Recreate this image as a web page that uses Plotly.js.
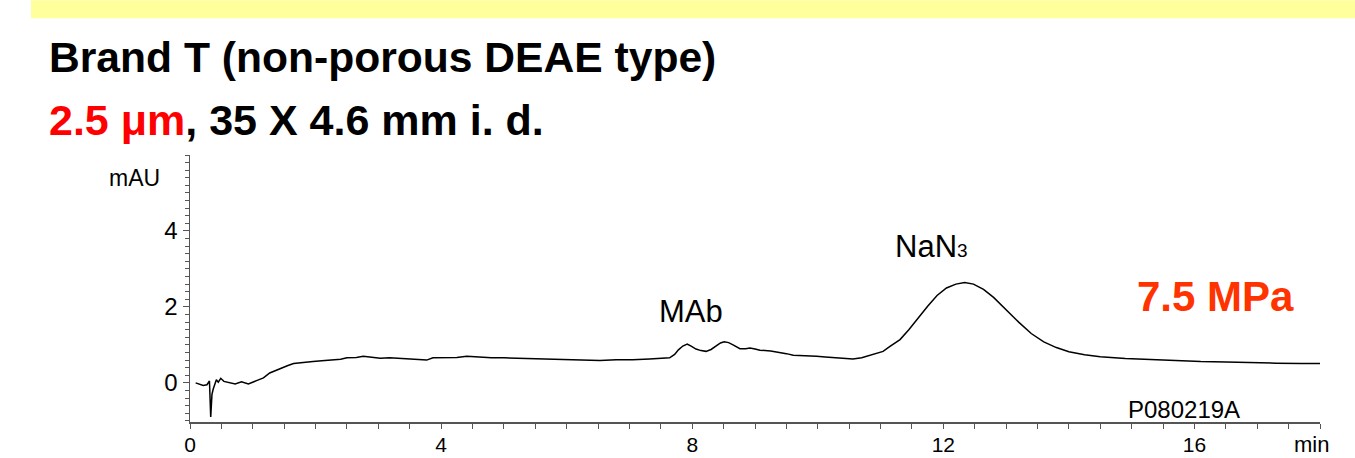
<!DOCTYPE html>
<html>
<head>
<meta charset="utf-8">
<script src="https://cdn.plot.ly/plotly-3.0.1.min.js"></script>
<style>
  html, body { margin: 0; padding: 0; background: #ffffff; }
  #chart { width: 1355px; height: 458px; }
</style>
</head>
<body>
<div id="chart"></div>
<script>
// ---- Data ----
const timeMin = [
  0.09, 0.16, 0.21, 0.27, 0.31, 0.33, 0.35, 0.37, 0.42, 0.45, 0.49, 0.54, 0.62, 0.72, 0.82, 0.93,
  1.06, 1.17, 1.27, 1.35, 1.43, 1.55, 1.65, 1.80, 1.96, 2.10, 2.23, 2.40, 2.50, 2.65, 2.76, 2.90,
  3.03, 3.18, 3.29, 3.45, 3.56, 3.70, 3.77, 3.87, 4.09, 4.25, 4.41, 4.62, 4.80, 5.00, 5.25, 5.50,
  5.75, 6.00, 6.25, 6.53, 6.79, 7.05, 7.32, 7.50, 7.64, 7.72, 7.78, 7.85, 7.92, 7.99, 8.06, 8.14,
  8.22, 8.30, 8.38, 8.45, 8.51, 8.58, 8.65, 8.76, 8.85, 8.92, 9.00, 9.08, 9.25, 9.39, 9.50, 9.61,
  9.80, 9.98, 10.12, 10.25, 10.40, 10.56, 10.70, 10.83, 10.95, 11.04, 11.15, 11.31, 11.45, 11.60,
  11.75, 11.90, 12.05, 12.20, 12.34, 12.48, 12.64, 12.80, 13.00, 13.20, 13.40, 13.60, 13.80, 14.00,
  14.25, 14.50, 14.90, 15.30, 15.70, 16.10, 16.50, 16.90, 17.30, 17.70, 18.00
];
const absorbanceMAU = [
  0.00, -0.04, -0.07, -0.05, 0.05, -0.90, -0.30, -0.16, 0.08, 0.02, 0.12, 0.04, 0.00, -0.03, 0.03, -0.03,
  0.06, 0.13, 0.26, 0.32, 0.38, 0.45, 0.51, 0.54, 0.56, 0.58, 0.60, 0.62, 0.66, 0.67, 0.70, 0.67,
  0.65, 0.66, 0.65, 0.64, 0.63, 0.61, 0.60, 0.66, 0.66, 0.67, 0.70, 0.67, 0.66, 0.66, 0.65, 0.64,
  0.64, 0.63, 0.62, 0.59, 0.61, 0.61, 0.63, 0.64, 0.66, 0.75, 0.87, 0.97, 1.02, 0.96, 0.89, 0.85,
  0.83, 0.88, 0.98, 1.05, 1.08, 1.06, 1.00, 0.90, 0.90, 0.92, 0.89, 0.86, 0.84, 0.81, 0.77, 0.73,
  0.72, 0.70, 0.68, 0.66, 0.64, 0.63, 0.66, 0.72, 0.78, 0.83, 0.96, 1.14, 1.40, 1.72,
  2.02, 2.30, 2.50, 2.60, 2.64, 2.60, 2.46, 2.25, 1.92, 1.60, 1.30, 1.08, 0.93, 0.82,
  0.74, 0.69, 0.64, 0.61, 0.58, 0.56, 0.55, 0.53, 0.52, 0.51, 0.51
];

const xTickVals = [0, 4, 8, 12, 16];
const xTickText = ['0', '4', '8', '12', '16'];
const yTickVals = [0, 2, 4];
const yTickText = ['0', '2', '4'];

const titleLine1 = '<b>Brand T (non-porous DEAE type)</b>';
const titleLine2 = '<b><span style="color:#ff0000">2.5 μm</span>, 35 X 4.6 mm i. d.</b>';
const peakLabels = [
  { text: 'MAb', x: 7.98, y: 1.88 },
  { text: 'NaN<span style="font-size:19px">3</span>', x: 11.81, y: 3.58 }
];
const pressureText = '<b>7.5 MPa</b>';
const runId = 'P080219A';
const yUnit = 'mAU';
const xUnit = 'min';

// ---- Layout helpers (pixel -> paper) ----
const W = 1355, H = 458;
const M = { l: 190, r: 35, t: 155, b: 35.5 };
const PW = W - M.l - M.r, PH = H - M.t - M.b;
const px = v => (v - M.l) / PW;
const py = v => (H - M.b - v) / PH;

const FONT = 'Liberation Sans, Arial, Helvetica, sans-serif';

const trace = {
  x: timeMin,
  y: absorbanceMAU,
  type: 'scatter',
  mode: 'lines',
  line: { color: '#000000', width: 1.5 },
  hoverinfo: 'skip'
};

const annotations = [
  { text: titleLine1, xref: 'paper', yref: 'paper', x: px(47), y: py(57), xanchor: 'left', yanchor: 'middle',
    showarrow: false, font: { family: FONT, size: 42.6, color: '#000000' } },
  { text: titleLine2, xref: 'paper', yref: 'paper', x: px(47), y: py(120), xanchor: 'left', yanchor: 'middle',
    showarrow: false, font: { family: FONT, size: 43, color: '#000000' } },
  { text: yUnit, xref: 'paper', yref: 'paper', x: px(134), y: py(178), xanchor: 'center', yanchor: 'middle',
    showarrow: false, font: { family: FONT, size: 23, color: '#000000' } },
  { text: xUnit, xref: 'paper', yref: 'paper', x: px(1311), y: py(445), xanchor: 'center', yanchor: 'middle',
    showarrow: false, font: { family: FONT, size: 22, color: '#000000' } },
  { text: runId, xref: 'paper', yref: 'paper', x: px(1184), y: py(410), xanchor: 'center', yanchor: 'middle',
    showarrow: false, font: { family: FONT, size: 24, color: '#000000' } },
  { text: pressureText, xref: 'paper', yref: 'paper', x: px(1215), y: py(297), xanchor: 'center', yanchor: 'middle',
    showarrow: false, font: { family: FONT, size: 42, color: '#ff3300' } }
];
peakLabels.forEach(p => annotations.push({
  text: p.text, x: p.x, y: p.y, xref: 'x', yref: 'y', xanchor: 'center', yanchor: 'middle',
  showarrow: false, font: { family: FONT, size: 31, color: '#000000' }
}));

const layout = {
  width: W, height: H,
  margin: M,
  paper_bgcolor: '#ffffff',
  plot_bgcolor: '#ffffff',
  showlegend: false,
  font: { family: FONT, color: '#000000' },
  xaxis: {
    range: [0, 18],
    tickmode: 'array', tickvals: xTickVals, ticktext: xTickText,
    ticks: 'outside', ticklen: 5, tickwidth: 1, tickcolor: '#555555',
    minor: { dtick: 0.5, ticks: 'outside', ticklen: 5, tickwidth: 1, tickcolor: '#555555' },
    showline: true, linecolor: '#555555', linewidth: 1.5,
    showgrid: false, zeroline: false,
    tickfont: { family: FONT, size: 21, color: '#000000' },
    ticklabelstandoff: -2,
    fixedrange: true
  },
  yaxis: {
    range: [-1.03, 6],
    tickmode: 'array', tickvals: yTickVals, ticktext: yTickText,
    ticks: 'outside', ticklen: 6, tickwidth: 1, tickcolor: '#555555',
    minor: { dtick: 0.2, ticks: 'outside', ticklen: 4, tickwidth: 1, tickcolor: '#555555' },
    showline: true, linecolor: '#555555', linewidth: 1.5,
    showgrid: false, zeroline: false,
    tickfont: { family: FONT, size: 24, color: '#000000' },
    fixedrange: true
  },
  shapes: [
    { type: 'rect', xref: 'paper', yref: 'paper', x0: px(31), x1: px(1355), y0: py(0), y1: py(18),
      fillcolor: '#ffff9c', line: { width: 0 }, layer: 'below' }
  ],
  annotations: annotations
};

Plotly.newPlot('chart', [trace], layout, { displayModeBar: false, staticPlot: true });
</script>
</body>
</html>
